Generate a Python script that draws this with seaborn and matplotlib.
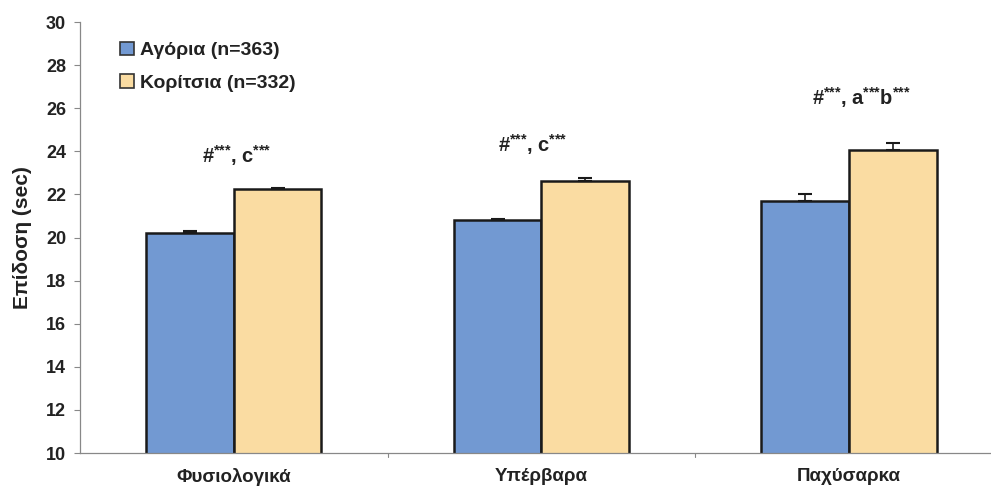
import matplotlib
matplotlib.use("Agg")
import matplotlib.pyplot as plt
import seaborn as sns
import pandas as pd

categories = ["Φυσιολογικά", "Υπέρβαρα", "Παχύσαρκα"]
groups = ["Αγόρια (n=363)", "Κορίτσια (n=332)"]
boys = [20.2, 20.8, 21.7]
girls = [22.25, 22.6, 24.05]
boys_err = [0.08, 0.05, 0.3]
girls_err = [0.04, 0.15, 0.35]
annotations = ["#$^{{*}{*}{*}}$, c$^{{*}{*}{*}}$",
               "#$^{{*}{*}{*}}$, c$^{{*}{*}{*}}$",
               "#$^{{*}{*}{*}}$, a$^{{*}{*}{*}}$b$^{{*}{*}{*}}$"]
annot_x = [0.01, 0.97, 2.04]
annot_y = [23.8, 24.3, 26.5]
y_ticks = list(range(10, 31, 2))

sns.set_style("white")
plt.rcParams["font.family"] = ["Liberation Sans", "DejaVu Sans"]
plt.rcParams["font.weight"] = "bold"
plt.rcParams["mathtext.fontset"] = "custom"
plt.rcParams["mathtext.rm"] = "Liberation Sans:bold"
plt.rcParams["mathtext.it"] = "Liberation Sans:bold"
plt.rcParams["mathtext.bf"] = "Liberation Sans:bold"

TXT = "#222222"

df = pd.DataFrame({
    "category": categories * 2,
    "group": [groups[0]] * 3 + [groups[1]] * 3,
    "value": boys + girls,
    "err": boys_err + girls_err,
})

fig = plt.figure(figsize=(9.91, 4.9), dpi=100)
ax = fig.add_axes([0.0807, 0.0755, 0.9314, 0.8796])

palette = {groups[0]: "#7299d2", groups[1]: "#fadca2"}
sns.barplot(data=df, x="category", y="value", hue="group", order=categories,
            hue_order=groups, palette=palette, width=0.57, errorbar=None,
            edgecolor="#1a1a1a", linewidth=1.8, saturation=1, ax=ax)

# one-sided (upper) error bars on each bar
for cont, g in zip(ax.containers, groups):
    sub = df[df["group"] == g].set_index("category").loc[categories]
    xs = [b.get_x() + b.get_width() / 2 for b in cont]
    ax.errorbar(xs, sub["value"], yerr=[[0] * 3, list(sub["err"])], fmt="none",
                ecolor="#1a1a1a", elinewidth=1.2, capsize=5, capthick=1.5, zorder=5)

for txt, xx, yy in zip(annotations, annot_x, annot_y):
    ax.text(xx, yy, txt, ha="center", va="center", fontsize=14.5,
            fontweight="bold", color=TXT)

ax.set_ylim(10, 30)
ax.set_xlim(-0.5, 2.5)
ax.set_yticks(y_ticks)
ax.set_yticklabels([str(t) for t in y_ticks], fontsize=13, fontweight="bold", color=TXT)
ax.set_xticks([0, 1, 2])
ax.set_xticklabels(categories, fontsize=13.5, fontweight="bold", color=TXT)
ax.tick_params(axis="x", length=0, pad=11)
ax.tick_params(axis="y", length=4, width=0.8, color="#888888", left=True, pad=6)
for xb in [0.5, 1.5]:
    ax.plot([xb, xb], [10, 9.8], color="#888888", lw=0.8, clip_on=False)
ax.set_xlabel("")
ax.set_ylabel("Επίδοση (sec)", fontsize=15, fontweight="bold", color=TXT, labelpad=10)

for s in ["top", "right"]:
    ax.spines[s].set_visible(False)
for s in ["left", "bottom"]:
    ax.spines[s].set_color("#888888")
    ax.spines[s].set_linewidth(0.9)

leg = ax.legend(loc="upper left", bbox_to_anchor=(0.035, 0.972), frameon=False,
                fontsize=14, handlelength=0.7, handleheight=0.7,
                handletextpad=0.3, labelspacing=0.75, borderaxespad=0)
for t in leg.get_texts():
    t.set_fontweight("bold")
    t.set_color(TXT)
for h in leg.legend_handles:
    h.set_edgecolor("#333333")
    h.set_linewidth(1.2)

fig.savefig("out.png", dpi=100, facecolor="white")
